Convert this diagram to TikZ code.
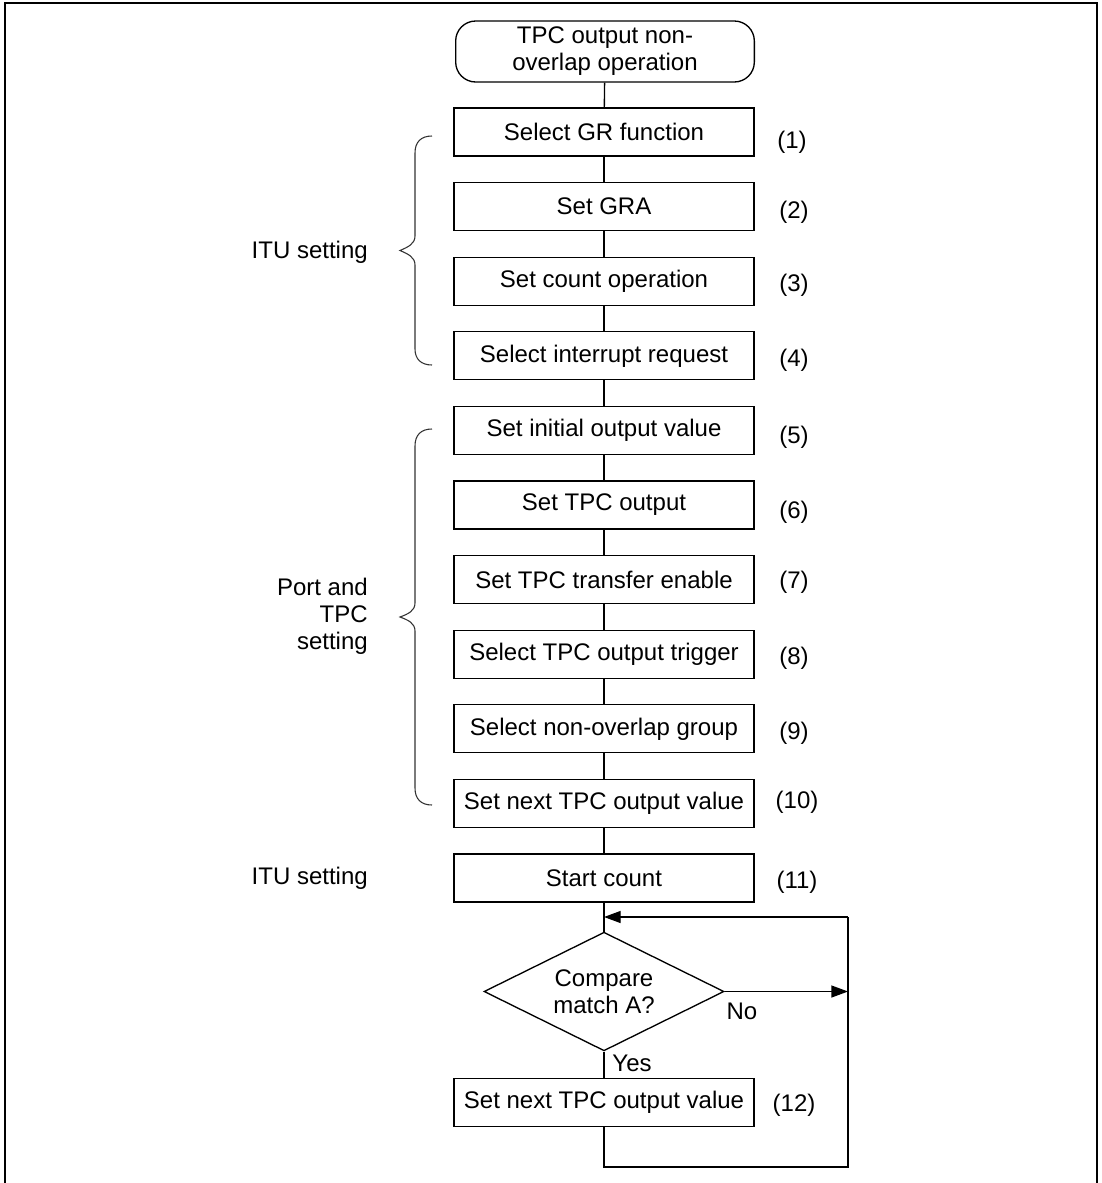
\documentclass[tikz,border=0pt]{standalone}
\usepackage{fontspec}
\setmainfont{Liberation Sans}
\usetikzlibrary{shapes.geometric,arrows.meta}
\begin{document}
\begin{tikzpicture}[x=0.75pt,y=-0.75pt,
  every node/.style={font=\fontsize{18}{20.25}\selectfont},
  stepbox/.style={draw, line width=1pt, minimum width=225pt, minimum height=36pt, inner sep=2pt},
  termbox/.style={draw, line width=1pt, rounded corners=15pt, minimum width=224pt, minimum height=45.75pt, align=center, inner sep=2pt},
  decbox/.style={draw, line width=1pt, diamond, aspect=2, minimum width=180pt, minimum height=89pt, inner sep=0pt, align=center},
  conn/.style={line width=1pt},
  arr/.style={line width=1pt, -{Triangle[length=12.5pt,width=9pt]}},
  bracepath/.style={line width=0.8pt, black!80},
  lbl/.style={inner sep=0pt},
  num/.style={inner sep=0pt}]
\useasboundingbox (0,0) rectangle (1102,1183);
% frame
\draw[line width=1.5pt] (5,1183) -- (5,3) -- (1097,3) -- (1097,1183);
% nodes
\node[termbox] (start) at (605,51.5) {TPC output non-\\overlap operation};
\node[stepbox] (b1) at (604,132) {Select GR function};
\node[stepbox] (b2) at (604,206.6) {Set GRA};
\node[stepbox] (b3) at (604,281.2) {Set count operation};
\node[stepbox] (b4) at (604,355.8) {Select interrupt request};
\node[stepbox] (b5) at (604,430.4) {Set initial output value};
\node[stepbox] (b6) at (604,505) {Set TPC output};
\node[stepbox] (b7) at (604,579.6) {Set TPC transfer enable};
\node[stepbox] (b8) at (604,654.2) {Select TPC output trigger};
\node[stepbox] (b9) at (604,728.8) {Select non-overlap group};
\node[stepbox] (b10) at (604,803.4) {Set next TPC output value};
\node[stepbox] (b11) at (604,878) {Start count};
\node[decbox] (dec) at (604,991.5) {Compare\\match A?};
\node[stepbox] (b12) at (604,1102.5) {Set next TPC output value};
% numbers
\node[num] (n1) at (792,142) {(1)};
\node[num] (n2) at (794,212) {(2)};
\node[num] (n3) at (794,285) {(3)};
\node[num] (n4) at (794,360) {(4)};
\node[num] (n5) at (794,437) {(5)};
\node[num] (n6) at (794,512) {(6)};
\node[num] (n7) at (794,582) {(7)};
\node[num] (n8) at (794,658) {(8)};
\node[num] (n9) at (794,733) {(9)};
\node[num] (n10) at (797,802) {(10)};
\node[num] (n11) at (797,882) {(11)};
\node[num] (n12) at (794,1105) {(12)};
% side labels
\node[lbl, anchor=east] (itu1) at (368,252) {ITU setting};
\node[lbl, anchor=east, align=right] (port) at (368,616) {Port and\\TPC\\setting};
\node[lbl, anchor=east] (itu2) at (368,878) {ITU setting};
\node[lbl] (no) at (742,1011) {No};
\node[lbl] (yes) at (632,1063) {Yes};
% connectors
\draw[conn] (start) -- (b1);
\draw[conn] (b1) -- (b2);
\draw[conn] (b2) -- (b3);
\draw[conn] (b3) -- (b4);
\draw[conn] (b4) -- (b5);
\draw[conn] (b5) -- (b6);
\draw[conn] (b6) -- (b7);
\draw[conn] (b7) -- (b8);
\draw[conn] (b8) -- (b9);
\draw[conn] (b9) -- (b10);
\draw[conn] (b10) -- (b11);
\draw[conn] (b11) -- (dec);
\draw[conn] (dec) -- (b12);
\coordinate (lbl0) at (604,1167);
\coordinate (lbr) at (848,1167);
\coordinate (ltr) at (848,917);
\coordinate (ltl) at (604,917);
\draw[conn] (b12.south) -- (lbl0) -- (lbr) -- (ltr);
\draw[arr] (ltr) -- (ltl);
\draw[arr] (dec.east) -- (dec.east -| ltr);
% braces
\draw[bracepath] (432,136) .. controls (421,136) and (415,142) .. (415,153) -- (415,236)
  .. controls (415,244) and (408,247) .. (400,250.5)
  .. controls (408,254) and (415,257) .. (415,265) -- (415,349)
  .. controls (415,359) and (421,365) .. (432,365);
\draw[bracepath] (432,429) .. controls (421,429) and (415,435) .. (415,446) -- (415,603)
  .. controls (415,611) and (408,614) .. (400,617)
  .. controls (408,620) and (415,623) .. (415,631) -- (415,788)
  .. controls (415,799) and (421,805) .. (432,805);
\end{tikzpicture}
\end{document}
